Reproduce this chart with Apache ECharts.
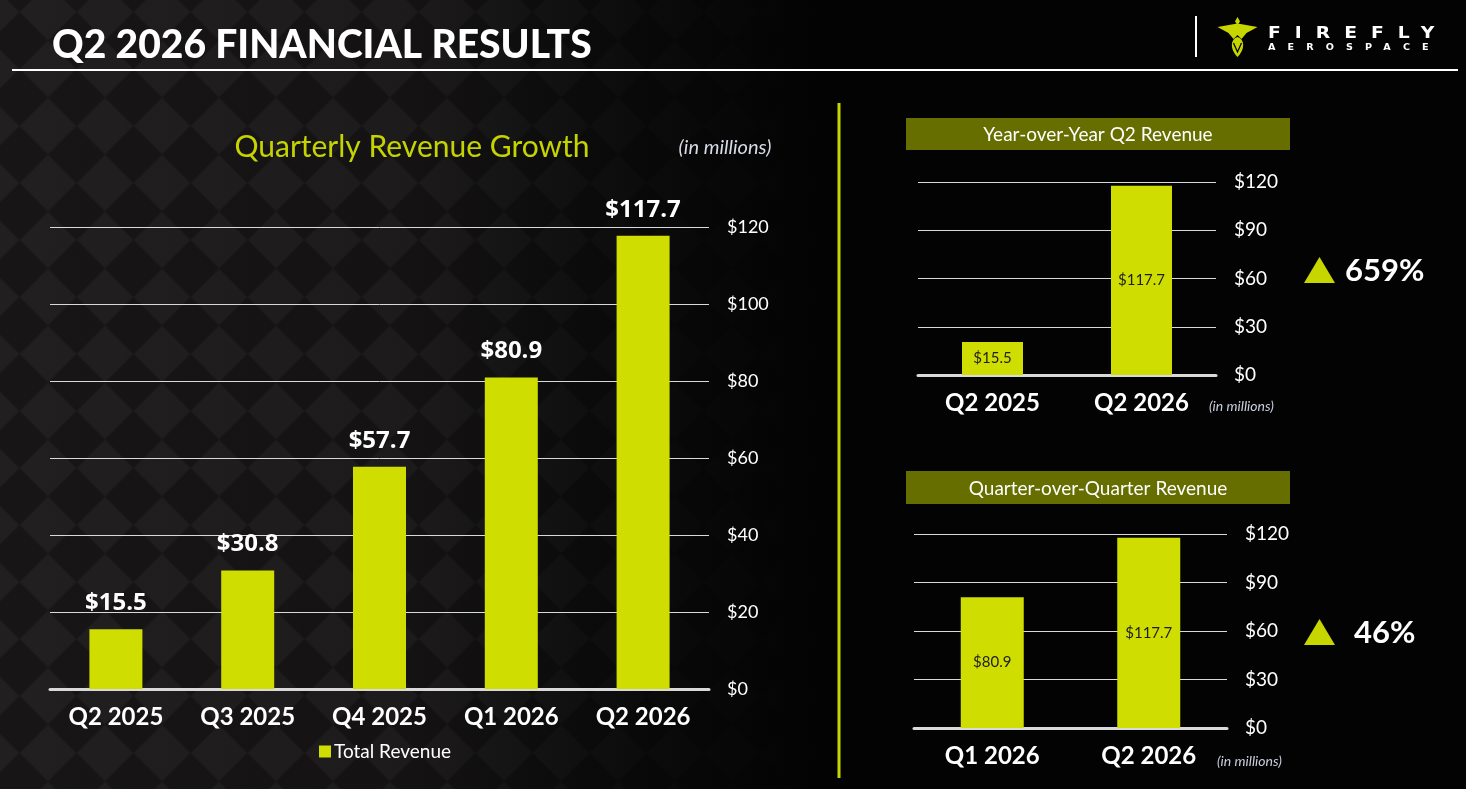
<!DOCTYPE html>
<html>
<head>
<meta charset="utf-8">
<script src="https://cdn.jsdelivr.net/npm/echarts@6/dist/echarts.min.js"></script>
<style>
  html, body { margin:0; padding:0; width:1466px; height:789px; overflow:hidden; background:#030303; }
  #bg { position:absolute; left:0; top:0; width:1466px; height:789px; }
  #chart { position:absolute; left:0; top:0; width:1466px; height:789px; }
  #logo { position:absolute; left:1217px; top:17px; width:41px; height:40px; }
  .lt1 { position:absolute; left:1268px; top:23px; color:#fff; font-family:'DejaVu Sans'; font-weight:bold; font-size:15px; letter-spacing:11.2px; line-height:20px; transform:scaleX(1.25); transform-origin:left center; }
  .lt2 { position:absolute; left:1268px; top:43px; color:#fff; font-family:'DejaVu Sans'; font-weight:bold; font-size:8px; letter-spacing:10.1px; line-height:10px; transform:scaleX(1.2); transform-origin:left center; }
</style>
</head>
<body>
<div id="bg"></div>
<div id="chart"></div>
<svg id="logo" viewBox="0 0 40 40">
  <polygon points="20,0 22.5,4.5 20,8 17.5,4.5" fill="#c8d600"/>
  <path d="M0,10 L20,6.5 L40,10 L29,16 L24,22 L20,18 L16,22 L11,16 Z" fill="#c8d600"/>
  <path d="M20,20 C27,22 28,32 20,40 C12,32 13,22 20,20 Z" fill="#c8d600"/>
  <path d="M16,26 L20,35 L24,26" fill="none" stroke="#030303" stroke-width="1.3"/>
</svg>
<div class="lt1">FIREFLY</div>
<div class="lt2">AEROSPACE</div>
<script>
// ---- data ----
const quarters = ['Q2 2025', 'Q3 2025', 'Q4 2025', 'Q1 2026', 'Q2 2026'];
const totalRevenue = [15.5, 30.8, 57.7, 80.9, 117.7];
const yoyQuarters = ['Q2 2025', 'Q2 2026'];
const yoyRevenue = [15.5, 117.7];
const qoqQuarters = ['Q1 2026', 'Q2 2026'];
const qoqRevenue = [80.9, 117.7];
const yoyChange = '659%';
const qoqChange = '46%';
const mainTicks = { min: 0, max: 120, interval: 20 };
const sideTicks = { min: 0, max: 120, interval: 30 };

// ---- background pattern ----
(function () {
  const s = 57;
  const c = document.createElement('canvas');
  c.width = s; c.height = s;
  const g = c.getContext('2d');
  g.fillStyle = '#171516';
  g.fillRect(0, 0, s, s);
  g.fillStyle = '#211f20';
  g.beginPath();
  g.moveTo(s / 2, 0); g.lineTo(s, s / 2); g.lineTo(s / 2, s); g.lineTo(0, s / 2);
  g.closePath(); g.fill();
  const bg = document.getElementById('bg');
  bg.style.backgroundImage =
    'linear-gradient(to right, rgba(3,3,3,0) 0%, rgba(3,3,3,0.15) 28%, rgba(3,3,3,0.7) 44%, rgba(3,3,3,1) 56%), url(' + c.toDataURL() + ')';
  bg.style.backgroundPosition = '0 0, 19.5px 40.5px';
  bg.style.backgroundRepeat = 'no-repeat, repeat';
})();

const YELLOW = '#cfde00';
const GRID = '#d9d9d9';
const FONT = 'Lato, "Noto Sans", sans-serif';

function xAx(gridIndex, data) {
  return {
    type: 'category', gridIndex, data,
    axisLine: { show: true, lineStyle: { color: GRID, width: 3 } },
    axisTick: { show: false },
    axisLabel: { margin: 16, color: '#ffffff', fontSize: 24, fontWeight: 'bold', fontFamily: FONT }
  };
}
function yAx(gridIndex, t, size) {
  return {
    type: 'value', gridIndex, position: 'right', min: t.min, max: t.max, interval: t.interval,
    axisLine: { show: false }, axisTick: { show: false },
    axisLabel: { margin: 18, color: '#ffffff', fontSize: size, fontFamily: FONT, formatter: v => '$' + v },
    splitLine: { show: true, lineStyle: { color: GRID, width: 1 } }
  };
}

const chart = echarts.init(document.getElementById('chart'), null, { renderer: 'canvas' });
chart.setOption({
  backgroundColor: 'transparent',
  animation: false,
  textStyle: { fontFamily: FONT },
  grid: [
    { left: 50, top: 227, width: 659, height: 462 },
    { left: 918, top: 182, width: 298, height: 193 },
    { left: 914, top: 534, width: 313, height: 194 }
  ],
  legend: {
    data: ['Total Revenue'], left: 314, top: 737, icon: 'rect', itemWidth: 12, itemHeight: 12, itemGap: 4,
    textStyle: { color: '#ffffff', fontSize: 19, fontFamily: FONT, padding: [0, 0, 0, -2] }
  },
  xAxis: [xAx(0, quarters), xAx(1, yoyQuarters), xAx(2, qoqQuarters)],
  yAxis: [yAx(0, mainTicks, 18), yAx(1, sideTicks, 19), yAx(2, sideTicks, 19)],
  series: [
    {
      name: 'Total Revenue', type: 'bar', xAxisIndex: 0, yAxisIndex: 0, data: totalRevenue, barWidth: 53,
      itemStyle: { color: YELLOW },
      label: { show: true, position: 'top', distance: 14, color: '#ffffff', fontSize: 24, fontWeight: 'bold',
        fontFamily: '"Open Sans", sans-serif', formatter: p => '$' + p.value.toFixed(1) }
    },
    {
      name: 'Year-over-Year', type: 'bar', xAxisIndex: 1, yAxisIndex: 1, data: yoyRevenue, barWidth: 61, barMinHeight: 33,
      itemStyle: { color: YELLOW },
      label: { show: true, position: 'inside', color: '#1e1e1e', fontSize: 15, fontFamily: FONT,
        formatter: p => '$' + p.value.toFixed(1) }
    },
    {
      name: 'Quarter-over-Quarter', type: 'bar', xAxisIndex: 2, yAxisIndex: 2, data: qoqRevenue, barWidth: 63,
      itemStyle: { color: YELLOW },
      label: { show: true, position: 'inside', color: '#1e1e1e', fontSize: 15, fontFamily: FONT,
        formatter: p => '$' + p.value.toFixed(1) }
    }
  ],
  graphic: [
    { type: 'text', x: 52, y: 45, style: { text: 'Q2 2026 FINANCIAL RESULTS', fill: '#ffffff', fontSize: 39, fontWeight: 900, fontFamily: FONT, align: 'left', verticalAlign: 'middle' } },
    { type: 'line', shape: { x1: 12, y1: 70, x2: 1458, y2: 70 }, style: { stroke: '#ffffff', lineWidth: 2 } },
    { type: 'line', shape: { x1: 1196, y1: 16, x2: 1196, y2: 57 }, style: { stroke: '#ffffff', lineWidth: 2 } },
    { type: 'line', shape: { x1: 839, y1: 103, x2: 839, y2: 778 }, style: { stroke: '#c8d600', lineWidth: 3 } },
    { type: 'text', x: 412, y: 147, style: { text: 'Quarterly Revenue Growth', fill: '#c5d400', fontSize: 30, fontFamily: FONT, align: 'center', verticalAlign: 'middle' } },
    { type: 'text', x: 725, y: 148, style: { text: '(in millions)', fill: '#d8dbe6', fontSize: 20, fontStyle: 'italic', fontFamily: FONT, align: 'center', verticalAlign: 'middle' } },
    { type: 'rect', shape: { x: 906, y: 118, width: 384, height: 32 }, style: { fill: '#666e00' } },
    { type: 'text', x: 1098, y: 135, style: { text: 'Year-over-Year Q2 Revenue', fill: '#ffffff', fontSize: 19, fontFamily: FONT, align: 'center', verticalAlign: 'middle' } },
    { type: 'rect', shape: { x: 906, y: 471, width: 384, height: 33 }, style: { fill: '#666e00' } },
    { type: 'text', x: 1098, y: 488.5, style: { text: 'Quarter-over-Quarter Revenue', fill: '#ffffff', fontSize: 19, fontFamily: FONT, align: 'center', verticalAlign: 'middle' } },
    { type: 'polygon', shape: { points: [[1304, 283], [1319.5, 257], [1335, 283]] }, style: { fill: '#c8d600' } },
    { type: 'text', x: 1345, y: 271, style: { text: yoyChange, fill: '#ffffff', fontSize: 31, fontWeight: 'bold', fontFamily: FONT, align: 'left', verticalAlign: 'middle' } },
    { type: 'polygon', shape: { points: [[1304, 645], [1319.5, 619], [1335, 645]] }, style: { fill: '#c8d600' } },
    { type: 'text', x: 1354, y: 633, style: { text: qoqChange, fill: '#ffffff', fontSize: 31, fontWeight: 'bold', fontFamily: FONT, align: 'left', verticalAlign: 'middle' } },
    { type: 'text', x: 1209, y: 406, style: { text: '(in millions)', fill: '#c9cede', fontSize: 14, fontStyle: 'italic', fontFamily: FONT, align: 'left', verticalAlign: 'middle' } },
    { type: 'text', x: 1217, y: 761, style: { text: '(in millions)', fill: '#c9cede', fontSize: 14, fontStyle: 'italic', fontFamily: FONT, align: 'left', verticalAlign: 'middle' } }
  ]
});
</script>
</body>
</html>
